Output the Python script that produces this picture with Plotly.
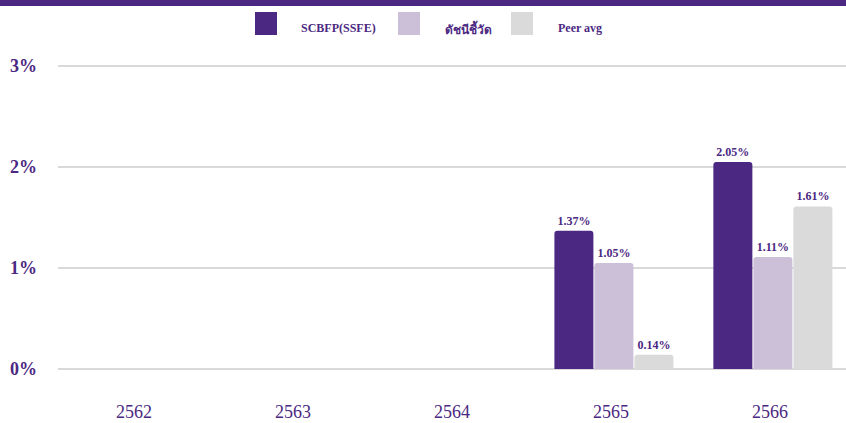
import plotly.graph_objects as go

# ---- data ----
years = ["2562", "2563", "2564", "2565", "2566"]
series_names = ["SCBFP(SSFE)", "ดัชนีชี้วัด", "Peer avg"]
scbfp = [None, None, None, 1.37, 2.05]
index_vals = [None, None, None, 1.05, 1.11]
peer_avg = [None, None, None, 0.14, 1.61]
y_ticks = [0, 1, 2, 3]
y_tick_labels = ["0%", "1%", "2%", "3%"]

# ---- styling ----
PURPLE = "#4B2882"
LILAC = "#CBC0D8"
GREY = "#DADADA"
GRID = "#D9D9D9"
colors = [PURPLE, LILAC, GREY]
FONT = "Liberation Serif, Times New Roman, serif"

W, H = 846, 423
ML, MR, MT, MB = 58, 0, 50, 27
PW, PH = W - ML - MR, H - MT - MB

fig = go.Figure()
for name, vals, col in zip(series_names, [scbfp, index_vals, peer_avg], colors):
    fig.add_trace(go.Bar(
        x=years, y=vals, name=name, marker=dict(color=col, line=dict(width=0)),
        texttemplate="%{y:.2f}%", textposition="outside",
        textfont=dict(family=FONT, size=12, color=PURPLE, weight="bold"),
        cliponaxis=False, showlegend=False,
    ))

def px_x(p):
    return (p - ML) / PW

def px_y(p):
    return 1 - (p - MT) / PH

shapes = [dict(type="rect", xref="paper", yref="paper",
               x0=-0.2, x1=1.2, y0=px_y(6), y1=px_y(-2),
               fillcolor=PURPLE, line=dict(width=0), layer="above")]
annotations = []
legend_sq_x = [255, 398, 511]
legend_txt_x = [299, 443, 556]
for name, col, sx, tx in zip(series_names, colors, legend_sq_x, legend_txt_x):
    shapes.append(dict(type="rect", xref="paper", yref="paper",
                       x0=px_x(sx), x1=px_x(sx + 22), y0=px_y(35), y1=px_y(12),
                       fillcolor=col, line=dict(width=0)))
    annotations.append(dict(text=name, xref="paper", yref="paper",
                            x=px_x(tx), y=px_y(28), xanchor="left", yanchor="middle",
                            showarrow=False,
                            font=dict(family=FONT, size=12, color=PURPLE, weight="bold")))

ppu = 101.0
fig.update_layout(
    width=W, height=H,
    margin=dict(l=ML, r=MR, t=MT, b=MB, pad=0),
    paper_bgcolor="white", plot_bgcolor="white",
    barmode="group", bargap=0.245, bargroupgap=0.025,
    barcornerradius=3,
    shapes=shapes, annotations=annotations,
    showlegend=False,
    xaxis=dict(type="category", range=[-0.497, 4.46], showgrid=False,
               showline=False, zeroline=False, ticks="",
               ticklabelstandoff=3, ticklabelshift=-3,
               tickfont=dict(family=FONT, size=18, color=PURPLE)),
    yaxis=dict(range=[-(396 - 369) / ppu, 3 + (66 - 50) / ppu],
               tickvals=y_ticks, ticktext=y_tick_labels,
               showgrid=True, gridcolor=GRID, gridwidth=2,
               zeroline=False, showline=False, ticks="",
               ticklabelstandoff=20,
               tickfont=dict(family=FONT, size=18, color=PURPLE, weight="bold")),
)

fig.write_html(
    "out.html",
    config={"displayModeBar": False},
    post_script="document.body.style.margin='0';document.body.style.overflow='hidden';",
)
